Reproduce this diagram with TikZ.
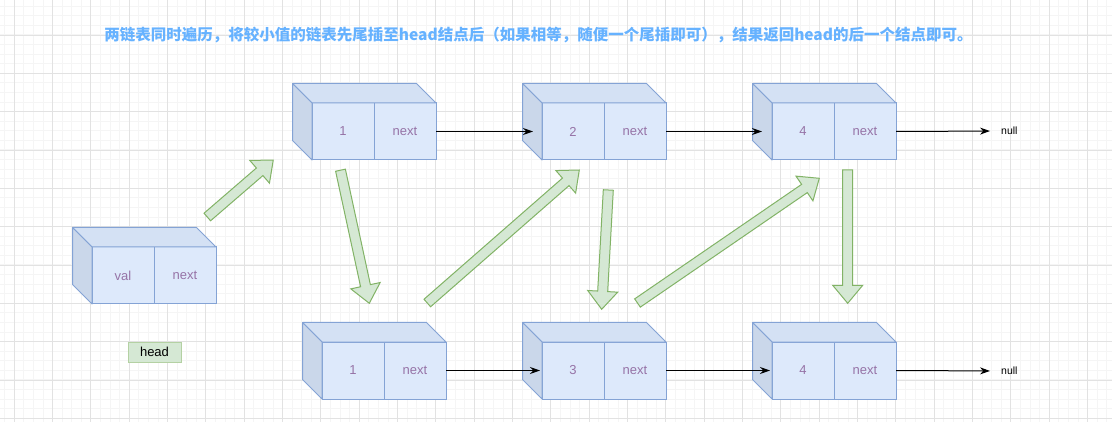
\documentclass[tikz,border=0pt]{standalone}
\usepackage{fontspec}
\setmainfont{Liberation Sans}
\newfontfamily\cjk{Noto Sans CJK SC}
\usetikzlibrary{calc,arrows.meta}

\definecolor{gridmajor}{HTML}{E2E2E2}
\definecolor{gridminor}{HTML}{F5F5F5}
\definecolor{cubefill}{HTML}{DDE9FB}
\definecolor{cubetop}{HTML}{D4E1F4}
\definecolor{cubeside}{HTML}{CAD7EA}
\definecolor{cubeline}{HTML}{84A3D5}
\definecolor{celltext}{HTML}{9673A6}
\definecolor{greenfill}{HTML}{D5E8D4}
\definecolor{greenline}{HTML}{82B366}
\definecolor{titleblue}{HTML}{66B2FF}

\tikzset{
  cell/.style={draw=cubeline, fill=cubefill, line width=1pt, minimum width=62pt,
    minimum height=57pt, inner sep=0pt, outer sep=0pt, text=celltext,
    font=\fontsize{13}{15}\selectfont},
  topface/.style={draw=cubeline, fill=cubetop, line width=1pt, line join=round},
  sideface/.style={draw=cubeline, fill=cubeside, line width=1pt, line join=round},
  link/.style={-{Stealth[length=10pt,width=7pt]}, line width=1pt},
  fatarrow/.style={draw=greenline, fill=greenfill, line width=1pt},
  nulltext/.style={font=\fontsize{10.5}{12}\selectfont, inner sep=0pt, anchor=west},
  tag/.style={draw=greenline!60, fill=greenfill, line width=1pt, minimum width=53pt,
    minimum height=20pt, inner sep=0pt, font=\fontsize{13}{15}\selectfont},
  title/.style={text=titleblue, font=\fontsize{15.5}{18}\selectfont\cjk\bfseries}
}

% list node as a box: front cells + top and side faces
\newcommand\listnode[3]{%
  \node[cell, anchor=north west] (#1v) at (#2) {#3};
  \node[cell, anchor=west] (#1n) at (#1v.east) {next};
  \filldraw[topface] (#1v.north west) -- ++(-19.5,-19.5)
    -- ($(#1n.north east)+(-19.5,-19.5)$) -- (#1n.north east) -- cycle;
  \filldraw[sideface] (#1v.north west) -- ++(-19.5,-19.5) -- ++(0,57)
    -- (#1v.south west) -- cycle;
}

% wide green arrow from #1 to #2
\newcommand\blockarrow[2]{%
  \filldraw[fatarrow] let \p1=($(#2)-(#1)$), \n1={veclen(\x1,\y1)},
    \n2={atan2(\y1,\x1)} in
    {[shift={(#1)}, rotate=\n2]
      (0pt,-5pt) -- ({\n1-18pt},-5pt) -- ({\n1-18pt},-15pt) -- (\n1,0pt)
      -- ({\n1-18pt},15pt) -- ({\n1-18pt},5pt) -- (0pt,5pt) -- cycle};
}

\begin{document}
\begin{tikzpicture}[x=1pt,y=-1pt]
  \useasboundingbox (0,0) rectangle (1112,422);
  \fill[white] (0,0) rectangle (1112,422);

  % grid
  \foreach \i in {0,...,115}
    \draw[gridminor, line width=1pt] ({4.7+9.5833*\i},0) -- ++(0,422);
  \foreach \i in {0,...,43}
    \draw[gridminor, line width=1pt] (0,{6.25+9.5833*\i}) -- ++(1112,0);
  \foreach \i in {0,...,28}
    \draw[gridmajor, line width=1pt] ({14.3+38.333*\i},0) -- ++(0,422);
  \foreach \i in {1,...,11}
    \draw[gridmajor, line width=1pt] (0,{-3.3+38.333*\i}) -- ++(1112,0);

  \node[title] (title) at (538.5,35)
    {两链表同时遍历，将较小值的链表先尾插至head结点后（如果相等，随便一个尾插即可），结果返回head的后一个结点即可。};

  % nodes
  \listnode{h}{92,247}{val}
  \listnode{ta}{312,103}{1}
  \listnode{tb}{542,103}{2}
  \listnode{tc}{772,103}{4}
  \listnode{ba}{322,342}{1}
  \listnode{bb}{542,342}{3}
  \listnode{bc}{772,342}{4}

  \node[tag] (headtag) at (154.5,352) {head};
  \node[nulltext] (null1) at (1001,131) {null};
  \node[nulltext] (null2) at (1001,371) {null};

  % links
  \draw[link, shorten >=9pt] (tan.east) -- (tbv.west);
  \draw[link, shorten >=10pt] (tbn.east) -- (tcv.west);
  \draw[link, shorten >=11pt] (tcn.east) -- (null1.west);
  \draw[link, shorten >=2pt] (ban.east) -- (bbv.west);
  \draw[link, shorten >=2pt] (bbn.east) -- (bcv.west);
  \draw[link, shorten >=11pt] (bcn.east) -- (null2.west);

  % merge steps
  \coordinate (s1) at (207.3,217);   \coordinate (e1) at (273.3,160);
  \coordinate (s2) at (340.5,170.2); \coordinate (e2) at (369.3,303.3);
  \coordinate (s3) at (427.3,303);   \coordinate (e3) at (579.3,170);
  \coordinate (s4) at (608.3,190);   \coordinate (e4) at (601.7,309.3);
  \coordinate (s5) at (637.5,303);   \coordinate (e5) at (819.3,178.3);
  \coordinate (s6) at (847.7,170);   \coordinate (e6) at (847.7,303.3);
  \blockarrow{s1}{e1}
  \blockarrow{s2}{e2}
  \blockarrow{s3}{e3}
  \blockarrow{s4}{e4}
  \blockarrow{s5}{e5}
  \blockarrow{s6}{e6}
\end{tikzpicture}
\end{document}
